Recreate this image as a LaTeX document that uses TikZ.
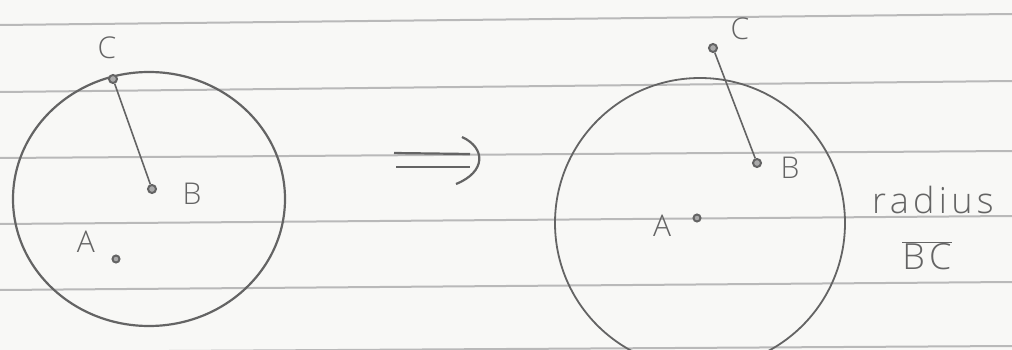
\documentclass[tikz,border=0pt]{standalone}
\usepackage{fontspec}
\setmainfont{Open Sans Light}[BoldFont=Open Sans]
\definecolor{paper}{RGB}{248,248,246}
\definecolor{rule}{RGB}{185,185,185}
\definecolor{ink}{RGB}{100,100,100}
\begin{document}
\begin{tikzpicture}[x=1pt,y=-1pt,
  ink line/.style={draw=ink,line width=2.2pt},
  dot/.style={circle,draw=ink,fill=ink!55,line width=2pt,inner sep=0pt,minimum size=8pt},
  lbl/.style={text=ink,font=\fontsize{30}{30}\selectfont,inner sep=0pt},
  wide/.style={text=ink,font=\fontsize{36}{36}\selectfont\addfontfeature{LetterSpace=12},inner sep=0pt},
  ruling/.style={draw=rule,line width=2pt}]
\fill[paper] (0,0) rectangle (1012,350);
\useasboundingbox (0,0) rectangle (1012,350);
% ruled lines
\foreach \a/\b in {25/14, 92/81, 158/151, 224/216, 290/282, 352/346}
  \draw[ruling] (0,\a) -- (1012,\b);
% left figure
\draw[ink line] (149,199) ellipse [x radius=136, y radius=127];
\node[dot] (C1) at (113,79) {};
\node[dot] (B1) at (152,189) {};
\node[dot,minimum size=7pt] (A1) at (116,259) {};
\draw[ink line,line width=1.6pt] (C1) -- (B1);
\node[lbl] (lC1) at (107,48) {C};
\node[lbl] (lB1) at (192,194) {B};
\node[lbl] (lA1) at (86,242) {A};
% implication arrow
\node (arr) at (437,160) {};
\draw[ink line] (394,153) -- (470,154);
\draw[ink line] (396,167) -- (470,167);
\draw[ink line] (462,137) .. controls (486,148) and (486,172) .. (456,184);
% right figure
\draw[ink line,line width=1.8pt] (700,223) circle [radius=145];
\node[dot] (C2) at (713,48) {};
\node[dot] (B2) at (757,163) {};
\node[dot,minimum size=7pt] (A2) at (697,218) {};
\draw[ink line,line width=1.6pt] (C2) -- (B2);
\node[lbl] (lC2) at (740,29) {C};
\node[lbl] (lB2) at (790,168) {B};
\node[lbl] (lA2) at (662,226) {A};
\node[wide,anchor=west] (rad) at (872,200) {radius};
\node[wide] (bc) at (927,256) {$\overline{\mbox{BC}}$};
\end{tikzpicture}
\end{document}
